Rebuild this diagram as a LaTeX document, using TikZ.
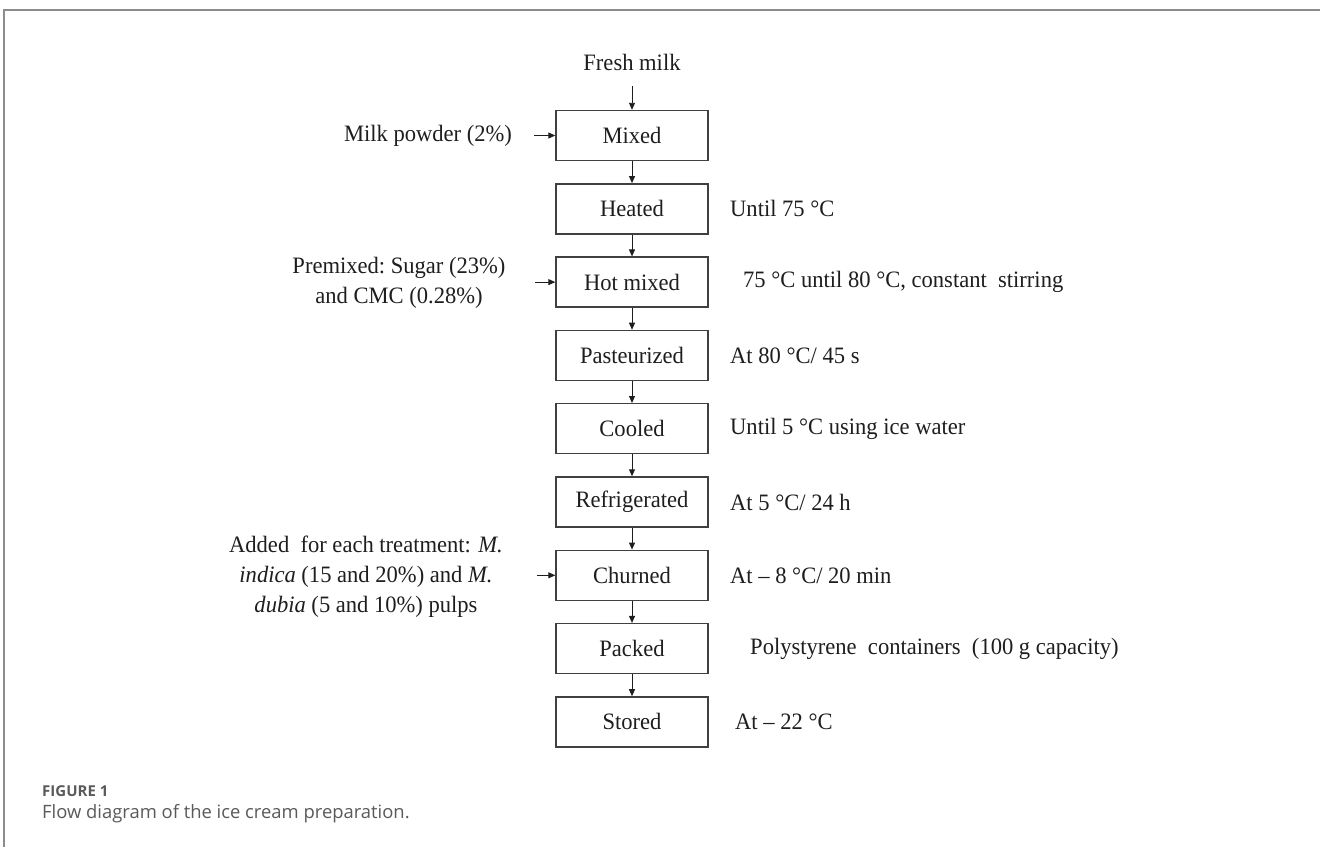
\documentclass[tikz,border=0pt]{standalone}
\usepackage{fontspec}
\setmainfont[FakeStretch=0.96]{Liberation Serif}
\newfontfamily\capfont[Ligatures=NoCommon]{Open Sans}
\usetikzlibrary{arrows.meta}
\definecolor{ink}{HTML}{1E1E1E}
\definecolor{framegray}{HTML}{8C8C8C}
\definecolor{capgray}{HTML}{5A5A5A}
\begin{document}
\begin{tikzpicture}[x=1pt,y=-1pt,
  stepbox/.style={draw=ink!85, line width=1.4pt, minimum width=152pt, minimum height=50pt,
    font=\fontsize{23.5}{27}\selectfont, text=ink, inner sep=0pt},
  lbl/.style={font=\fontsize{23.5}{30}\selectfont, text=ink, inner sep=0pt},
  arr/.style={-{Triangle[length=7pt,width=6pt]}, line width=0.9pt, draw=ink}]
\useasboundingbox (0,0) rectangle (1320,847);
\fill[white] (0,0) rectangle (1320,847);
\draw[framegray, line width=2pt] (4,847) -- (4,10) -- (1320,10);

% main column
\node[lbl] (fresh) at (632,62) {Fresh milk};
\node[stepbox] (mixed) at (632,135.5) {Mixed};
\node[stepbox] (heated) at (632,208.8) {Heated};
\node[stepbox] (hot) at (632,282.1) {Hot mixed};
\node[stepbox] (past) at (632,355.4) {Pasteurized};
\node[stepbox] (cooled) at (632,428.7) {Cooled};
\node[stepbox] (refr) at (632,502) {Refrigerated};
\node[stepbox] (churn) at (632,575.3) {Churned};
\node[stepbox] (packed) at (632,648.6) {Packed};
\node[stepbox] (stored) at (632,721.9) {Stored};

\coordinate (freshend) at (632,86);
\draw[arr] (freshend) -- (mixed.north);
\draw[arr] (mixed) -- (heated);
\draw[arr] (heated) -- (hot);
\draw[arr] (hot) -- (past);
\draw[arr] (past) -- (cooled);
\draw[arr] (cooled) -- (refr);
\draw[arr] (refr) -- (churn);
\draw[arr] (churn) -- (packed);
\draw[arr] (packed) -- (stored);

% inputs on the left
\node[lbl] (powder) at (428,135.5) {Milk powder (2\%)};
\coordinate (powderend) at (534,135.5);
\draw[arr] (powderend) -- (mixed.west);

\node[lbl, align=center] (premix) at (399,283) {Premixed:\ Sugar (23\%)\\and CMC (0.28\%)};
\coordinate (premixend) at (535,282.1);
\draw[arr] (premixend) -- (hot.west);

\node[lbl, align=center] (added) at (366,577) {Added\ \ for each treatment: \textit{M.}\\\textit{indica} (15 and 20\%) and \textit{M.}\\\textit{dubia} (5 and 10\%) pulps};
\coordinate (addedend) at (537,575.3);
\draw[arr] (addedend) -- (churn.west);

% conditions on the right
\node[lbl, anchor=west] (c1) at (730,208.8) {Until 75 °C};
\node[lbl, anchor=west] (c2) at (743,282.1) {75 °C until 80 °C, constant\ \ stirring};
\node[lbl, anchor=west] (c3) at (730,355.4) {At 80 °C/ 45 s};
\node[lbl, anchor=west] (c4) at (730,428.7) {Until 5 °C using ice water};
\node[lbl, anchor=west] (c5) at (730,502) {At 5 °C/ 24 h};
\node[lbl, anchor=west] (c6) at (730,575.3) {At – 8 °C/ 20 min};
\node[lbl, anchor=west] (c7) at (750,648.6) {Polystyrene\ \ containers\ \ (100 g capacity)};
\node[lbl, anchor=west] (c8) at (735,721.9) {At – 22 °C};

% caption
\node[anchor=west, inner sep=0pt, text=capgray, font=\capfont\bfseries\fontsize{15}{18}\selectfont] (figlbl) at (42,791) {FIGURE 1};
\node[anchor=west, inner sep=0pt, text=capgray, font=\capfont\fontsize{18.4}{22}\selectfont] (cap) at (42,814) {Flow diagram of the ice cream preparation.};
\end{tikzpicture}
\end{document}
